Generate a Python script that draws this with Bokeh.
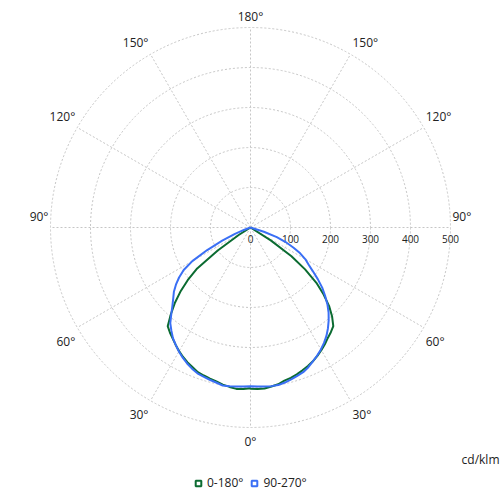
import numpy as np
from bokeh.plotting import figure
from bokeh.models import Legend, LegendItem, Label
from bokeh.core.properties import value
from bokeh.embed import file_html
from bokeh.resources import INLINE

# ---------------- data ----------------
gamma = [0, 2.5, 5, 7.5, 10, 12.5, 15, 17.5, 20, 22.5, 25, 27.5, 30, 32.5, 35,
         37.5, 40, 42.5, 45, 47.5, 50, 52.5, 55, 57.5, 60, 62.5, 65, 67.5, 70,
         72.5, 75, 77.5, 80, 82.5, 85, 87.5, 90]

# plane 0-180 (green): C0 half drawn on the right, C180 half on the left
green_c0 = [403, 404, 404, 401, 398, 392, 389, 385, 380, 375, 369, 362, 354, 346, 337,
            330, 322, 302, 278, 248, 215, 172, 125, 60, 0, 0, 0, 0, 0,
            0, 0, 0, 0, 0, 0, 0, 0]
green_c180 = [402, 404, 405, 402, 399, 394, 391, 388, 385, 378, 372, 365, 357, 348, 339,
              331, 322, 295, 268, 238, 205, 168, 100, 35, 0, 0, 0, 0, 0,
              0, 0, 0, 0, 0, 0, 0, 0]
# plane 90-270 (blue): C90 half on the right, C270 half on the left
blue_c90 = [397, 398, 399, 400, 400, 397, 393, 389, 385, 378, 369, 361, 352, 342, 331,
            318, 304, 289, 272, 253, 234, 212, 190, 172, 158, 140, 118, 95, 70,
            35, 0, 0, 0, 0, 0, 0, 0]
blue_c270 = [397, 398, 399, 400, 401, 397, 394, 391, 388, 382, 375, 367, 358, 348, 338,
             325, 312, 293, 276, 262, 250, 235, 218, 198, 168, 122, 78, 42, 16,
             0, 0, 0, 0, 0, 0, 0, 0]

ring_values = [100, 200, 300, 400, 500]
ring_labels = ["0", "100", "200", "300", "400", "500"]
spoke_angles = [0, 30, 60, 90, 120, 150, 180, 210, 240, 270, 300, 330]
angle_tick_labels = ["0°", "30°", "60°", "90°", "120°", "150°", "180°",
                     "150°", "120°", "90°", "60°", "30°"]
series_labels = ["0-180°", "90-270°"]
unit_label = "cd/klm"

GREEN = "#0b6b31"
BLUE = "#3a6ff5"
GRID = "#c6c6c6"
TEXT = "#222222"
FONT = "Open Sans"


def plane_xy(right, left):
    g = np.radians(np.array(gamma, dtype=float))
    rr = np.array(right, dtype=float)
    rl = np.array(left, dtype=float)
    xl = -(rl * np.sin(g))[::-1]
    yl = -(rl * np.cos(g))[::-1]
    xr = rr * np.sin(g)
    yr = -rr * np.cos(g)
    return np.concatenate([xl, xr]), np.concatenate([yl, yr])


# 0.4 px per cd/klm, pole at (250, 227) of the picture
W = H = 500
scale = 0.4
cx_px, cy_px = 250, 227
p = figure(width=W, height=H, output_backend="svg", toolbar_location=None,
           x_range=(-cx_px / scale, (W - cx_px) / scale),
           y_range=(-(H - cy_px) / scale, cy_px / scale),
           x_axis_type=None, y_axis_type=None, min_border=0,
           background_fill_color="white", border_fill_color="white")
p.outline_line_color = None
p.grid.visible = False

rmax = max(ring_values)
# rings
p.circle(x=[0] * len(ring_values), y=[0] * len(ring_values), radius=ring_values,
         fill_color=None, line_color=GRID, line_dash="2 2", line_width=1)
# spokes
sa = np.radians(spoke_angles)
sx = rmax * np.sin(sa)
sy = -rmax * np.cos(sa)
p.segment(x0=[0] * len(sa), y0=[0] * len(sa), x1=list(sx), y1=list(sy),
          line_color=GRID, line_dash="2 2", line_width=1)

# angle labels, anchored just outside the outer ring
aligns, baselines, xo, yo = [], [], [], []
for x_, y_, a in zip(sx, sy, spoke_angles):
    if abs(x_) < 1e-3:
        aligns.append("center"); xo.append(0)
    elif x_ < 0:
        aligns.append("right"); xo.append(-2)
    else:
        aligns.append("left"); xo.append(2)
    if a in (90, 270):
        baselines.append("bottom"); yo.append(-3)
    elif y_ > 0:
        baselines.append("bottom"); yo.append(-3)
    else:
        baselines.append("top"); yo.append(5)
p.text(x=list(sx), y=list(sy), text=angle_tick_labels, x_offset=xo, y_offset=yo,
       text_align=aligns, text_baseline=baselines, text_font=value(FONT),
       text_font_size="12px", text_color=TEXT)

# radial value labels
p.text(x=[0] + ring_values, y=[0] * 6, text=ring_labels, y_offset=11,
       text_align="center", text_baseline="middle", text_font=value(FONT),
       text_font_size="10px", text_color=TEXT)

# curves
gx, gy = plane_xy(green_c0, green_c180)
bx, by = plane_xy(blue_c90, blue_c270)
p.line(gx, gy, line_color=GREEN, line_width=2)
p.line(bx, by, line_color=BLUE, line_width=2)

# legend (hollow squares); the marker renderers hold no visible points
gm = p.scatter(x=[np.nan], y=[np.nan], marker="square", fill_color="white",
               line_color=GREEN, line_width=2)
bm = p.scatter(x=[np.nan], y=[np.nan], marker="square", fill_color="white",
               line_color=BLUE, line_width=2)
legend = Legend(items=[LegendItem(label=series_labels[0], renderers=[gm]),
                       LegendItem(label=series_labels[1], renderers=[bm])],
                orientation="horizontal", location=(191, 9),
                glyph_width=14, glyph_height=14, label_height=14, label_standoff=2,
                spacing=4, padding=0, margin=0, border_line_color=None,
                background_fill_alpha=0, label_text_font=FONT,
                label_text_font_size="12px", label_text_color=TEXT)
p.add_layout(legend)

p.add_layout(Label(x=499, y=H - 459, x_units="screen", y_units="screen", text=unit_label,
                   text_align="right", text_baseline="middle", text_font=FONT,
                   text_font_size="12px", text_color=TEXT))

open("out.html", "w").write(file_html(p, INLINE))
